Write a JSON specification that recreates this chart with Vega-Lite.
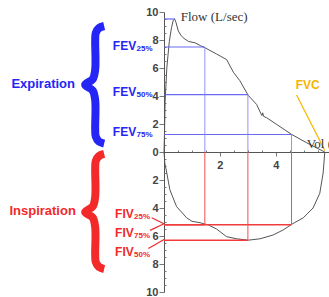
{
  "$schema": "https://vega.github.io/schema/vega-lite/v6.json",
  "autosize": "none",
  "padding": {"left": 164, "top": 12, "right": 0, "bottom": 5},
  "width": 165,
  "height": 280,
  "background": "white",
  "config": {"view": {"stroke": null}, "axis": {"labelOverlap": false, "labelFlush": false, "labelBound": false}},
  "resolve": {"axis": {"x": "independent", "y": "independent"}},
  "datasets": {
    "loop": [
      {"phase": "exp", "vol": 0, "flow": 0},
      {"phase": "exp", "vol": 0.02, "flow": 1.5},
      {"phase": "exp", "vol": 0.04, "flow": 3.6},
      {"phase": "exp", "vol": 0.1, "flow": 6.0},
      {"phase": "exp", "vol": 0.19, "flow": 7.9},
      {"phase": "exp", "vol": 0.27, "flow": 8.9},
      {"phase": "exp", "vol": 0.33, "flow": 9.4},
      {"phase": "exp", "vol": 0.38, "flow": 9.5},
      {"phase": "exp", "vol": 0.43, "flow": 9.25},
      {"phase": "exp", "vol": 0.51, "flow": 8.65},
      {"phase": "exp", "vol": 0.6, "flow": 8.35},
      {"phase": "exp", "vol": 0.69, "flow": 8.15},
      {"phase": "exp", "vol": 0.87, "flow": 7.9},
      {"phase": "exp", "vol": 1.11, "flow": 7.8},
      {"phase": "exp", "vol": 1.3, "flow": 7.6},
      {"phase": "exp", "vol": 1.46, "flow": 7.45},
      {"phase": "exp", "vol": 1.88, "flow": 7.0},
      {"phase": "exp", "vol": 2.24, "flow": 6.6},
      {"phase": "exp", "vol": 2.48, "flow": 5.7},
      {"phase": "exp", "vol": 2.71, "flow": 5.1},
      {"phase": "exp", "vol": 3.01, "flow": 4.05},
      {"phase": "exp", "vol": 3.31, "flow": 3.4},
      {"phase": "exp", "vol": 3.5, "flow": 2.6},
      {"phase": "exp", "vol": 3.53, "flow": 2.8},
      {"phase": "exp", "vol": 3.56, "flow": 2.55},
      {"phase": "exp", "vol": 3.67, "flow": 2.45},
      {"phase": "exp", "vol": 4.02, "flow": 1.98},
      {"phase": "exp", "vol": 4.56, "flow": 1.26},
      {"phase": "exp", "vol": 5.1, "flow": 0.66},
      {"phase": "exp", "vol": 5.45, "flow": 0.3},
      {"phase": "exp", "vol": 5.75, "flow": 0.0},
      {"phase": "insp", "vol": 0, "flow": 0},
      {"phase": "insp", "vol": 0.03, "flow": -0.8},
      {"phase": "insp", "vol": 0.1, "flow": -1.5},
      {"phase": "insp", "vol": 0.21, "flow": -2.7},
      {"phase": "insp", "vol": 0.45, "flow": -3.9},
      {"phase": "insp", "vol": 0.81, "flow": -4.7},
      {"phase": "insp", "vol": 1.0, "flow": -4.95},
      {"phase": "insp", "vol": 1.29, "flow": -5.05},
      {"phase": "insp", "vol": 1.46, "flow": -5.15},
      {"phase": "insp", "vol": 1.58, "flow": -5.2},
      {"phase": "insp", "vol": 1.88, "flow": -5.5},
      {"phase": "insp", "vol": 2.24, "flow": -6.05},
      {"phase": "insp", "vol": 2.6, "flow": -6.2},
      {"phase": "insp", "vol": 3.01, "flow": -6.3},
      {"phase": "insp", "vol": 3.43, "flow": -6.2},
      {"phase": "insp", "vol": 3.9, "flow": -5.93},
      {"phase": "insp", "vol": 4.26, "flow": -5.57},
      {"phase": "insp", "vol": 4.56, "flow": -5.17},
      {"phase": "insp", "vol": 4.98, "flow": -4.7},
      {"phase": "insp", "vol": 5.33, "flow": -4.0},
      {"phase": "insp", "vol": 5.57, "flow": -2.95},
      {"phase": "insp", "vol": 5.69, "flow": -1.5},
      {"phase": "insp", "vol": 5.75, "flow": 0}
    ],
    "fev": [
      {"name": "PEF", "vol": 0.39, "flow": 9.5, "drop": false},
      {"name": "FEV25", "vol": 1.46, "flow": 7.5, "drop": true},
      {"name": "FEV50", "vol": 3.0, "flow": 4.1, "drop": true},
      {"name": "FEV75", "vol": 4.56, "flow": 1.25, "drop": true}
    ],
    "fiv": [
      {"name": "FIV25", "vol": 1.46, "flow": -5.2},
      {"name": "FIV50", "vol": 3.0, "flow": -6.3},
      {"name": "FIV75", "vol": 4.56, "flow": -5.2}
    ],
    "braces": [
      {"group": "exp", "i": 1, "vol": -2.14, "flow": 9.0},
      {"group": "exp", "i": 2, "vol": -2.33, "flow": 8.85},
      {"group": "exp", "i": 3, "vol": -2.44, "flow": 8.5},
      {"group": "exp", "i": 4, "vol": -2.46, "flow": 8.0},
      {"group": "exp", "i": 5, "vol": -2.46, "flow": 5.9},
      {"group": "exp", "i": 6, "vol": -2.55, "flow": 5.2},
      {"group": "exp", "i": 7, "vol": -2.82, "flow": 4.8},
      {"group": "exp", "i": 8, "vol": -2.55, "flow": 4.4},
      {"group": "exp", "i": 9, "vol": -2.46, "flow": 3.7},
      {"group": "exp", "i": 10, "vol": -2.46, "flow": 1.6},
      {"group": "exp", "i": 11, "vol": -2.44, "flow": 1.1},
      {"group": "exp", "i": 12, "vol": -2.33, "flow": 0.75},
      {"group": "exp", "i": 13, "vol": -2.14, "flow": 0.6},
      {"group": "insp", "i": 1, "vol": -2.14, "flow": -0.14},
      {"group": "insp", "i": 2, "vol": -2.33, "flow": -0.29},
      {"group": "insp", "i": 3, "vol": -2.44, "flow": -0.64},
      {"group": "insp", "i": 4, "vol": -2.46, "flow": -1.14},
      {"group": "insp", "i": 5, "vol": -2.46, "flow": -3.2},
      {"group": "insp", "i": 6, "vol": -2.55, "flow": -3.9},
      {"group": "insp", "i": 7, "vol": -2.82, "flow": -4.29},
      {"group": "insp", "i": 8, "vol": -2.55, "flow": -4.68},
      {"group": "insp", "i": 9, "vol": -2.46, "flow": -5.38},
      {"group": "insp", "i": 10, "vol": -2.46, "flow": -7.36},
      {"group": "insp", "i": 11, "vol": -2.44, "flow": -7.86},
      {"group": "insp", "i": 12, "vol": -2.33, "flow": -8.21},
      {"group": "insp", "i": 13, "vol": -2.14, "flow": -8.36}
    ],
    "big": [
      {"group": "exp", "text": "Expiration", "vol": -4.32, "flow": 4.86},
      {"group": "insp", "text": "Inspiration", "vol": -4.34, "flow": -4.21}
    ],
    "main": [
      {"group": "exp", "text": "FEV", "vol": -1.83, "flow": 7.57},
      {"group": "exp", "text": "FEV", "vol": -1.83, "flow": 4.31},
      {"group": "exp", "text": "FEV", "vol": -1.83, "flow": 1.45},
      {"group": "insp", "text": "FIV", "vol": -1.75, "flow": -4.43},
      {"group": "insp", "text": "FIV", "vol": -1.75, "flow": -5.81},
      {"group": "insp", "text": "FIV", "vol": -1.75, "flow": -7.12},
      {"group": "fvc", "text": "FVC", "vol": 4.71, "flow": 4.79}
    ],
    "subs": [
      {"group": "exp", "text": "25%", "vol": -0.98, "flow": 7.36},
      {"group": "exp", "text": "50%", "vol": -0.98, "flow": 4.1},
      {"group": "exp", "text": "75%", "vol": -0.98, "flow": 1.24},
      {"group": "insp", "text": "25%", "vol": -1.07, "flow": -4.64},
      {"group": "insp", "text": "75%", "vol": -1.07, "flow": -6.02},
      {"group": "insp", "text": "50%", "vol": -1.07, "flow": -7.33}
    ],
    "leaders": [
      {"group": "insp", "vol": -0.44, "flow": -4.7, "vol2": 0, "flow2": -5.12},
      {"group": "insp", "vol": -0.5, "flow": -5.6, "vol2": 0, "flow2": -5.12},
      {"group": "insp", "vol": -0.56, "flow": -6.9, "vol2": 0, "flow2": -6.25},
      {"group": "fvc", "vol": 4.74, "flow": 4.07, "vol2": 5.75, "flow2": 0.1}
    ],
    "axtitles": [
      {"text": "Flow (L/sec)", "vol": 0.6, "flow": 9.64},
      {"text": "Vol (L)", "vol": 5.1, "flow": 0.6}
    ]
  },
  "layer": [
    {
      "data": {"name": "loop"},
      "mark": {"type": "line", "color": "#555555", "strokeWidth": 1, "clip": false},
      "encoding": {
        "x": {
          "field": "vol", "type": "quantitative",
          "scale": {"domain": [0, 5.9], "nice": false, "zero": false},
          "axis": {
            "title": null, "orient": "bottom", "offset": -140,
            "values": [2, 4],
            "domainColor": "#555555", "tickColor": "#777777",
            "tickSize": 4, "labelPadding": 3,
            "labelFont": "Liberation Sans", "labelFontSize": 11, "labelFontWeight": "bold", "labelColor": "#444444",
            "grid": false
          }
        },
        "y": {
          "field": "flow", "type": "quantitative",
          "scale": {"domain": [-10, 10], "nice": false, "zero": false},
          "axis": {
            "title": null, "orient": "left",
            "values": [-10, -8, -6, -4, -2, 0, 2, 4, 6, 8, 10],
            "labelExpr": "'' + abs(datum.value)",
            "tickSize": 5,
            "domainColor": "#555555", "tickColor": "#777777",
            "labelPadding": 1,
            "labelFont": "Liberation Sans", "labelFontSize": 11, "labelFontWeight": "bold", "labelColor": "#444444",
            "grid": false
          }
        },
        "detail": {"field": "phase"}
      }
    },
    {
      "data": {"name": "fev"},
      "mark": {"type": "rule", "color": "#5a5af0", "strokeWidth": 1.2, "opacity": 0.9},
      "encoding": {
        "x": {"field": "vol", "type": "quantitative",
          "axis": {"title": null, "orient": "top", "offset": -140, "labels": false, "domain": false,
            "values": [0.5, 1, 1.5, 2.5, 3, 3.5, 4.5, 5, 5.5], "tickSize": 2, "tickColor": "#777777", "grid": false}},
        "x2": {"datum": 0},
        "y": {"field": "flow", "type": "quantitative",
          "axis": {"title": null, "orient": "right", "offset": -165, "labels": false, "domain": false,
            "values": [-9.5, -9, -8.5, -7.5, -7, -6.5, -5.5, -5, -4.5, -3.5, -3, -2.5, -1.5, -1, -0.5, 0.5, 1, 1.5, 2.5, 3, 3.5, 4.5, 5, 5.5, 6.5, 7, 7.5, 8.5, 9, 9.5],
            "tickSize": 2, "tickColor": "#777777", "grid": false}}
      }
    },
    {
      "data": {"name": "fev"},
      "transform": [{"filter": "datum.drop"}],
      "mark": {"type": "rule", "color": "#7a7af5", "strokeWidth": 1, "opacity": 0.8},
      "encoding": {
        "x": {"field": "vol", "type": "quantitative", "axis": null},
        "y": {"field": "flow", "type": "quantitative", "axis": null},
        "y2": {"datum": 0}
      }
    },
    {
      "data": {"name": "fiv"},
      "mark": {"type": "rule", "color": "#f03c3c", "strokeWidth": 1.5},
      "encoding": {
        "x": {"field": "vol", "type": "quantitative", "axis": null},
        "x2": {"datum": 0},
        "y": {"field": "flow", "type": "quantitative", "axis": null}
      }
    },
    {
      "data": {"name": "fiv"},
      "mark": {"type": "rule", "color": "#f05050", "strokeWidth": 1},
      "encoding": {
        "x": {"field": "vol", "type": "quantitative", "axis": null},
        "y": {"field": "flow", "type": "quantitative", "axis": null},
        "y2": {"datum": 0}
      }
    },
    {
      "data": {"name": "braces"},
      "mark": {"type": "line", "strokeWidth": 8, "interpolate": "catmull-rom", "strokeCap": "butt", "strokeJoin": "round", "clip": false},
      "encoding": {
        "x": {"field": "vol", "type": "quantitative", "axis": null},
        "y": {"field": "flow", "type": "quantitative", "axis": null},
        "order": {"field": "i", "type": "quantitative"},
        "detail": {"field": "group", "type": "nominal"},
        "color": {"field": "group", "type": "nominal", "legend": null,
          "scale": {"domain": ["exp", "insp", "fvc"], "range": ["#2525f5", "#f22a2a", "#f5b500"]}}
      }
    },
    {
      "data": {"name": "leaders"},
      "mark": {"type": "rule", "strokeWidth": 1.2, "clip": false},
      "encoding": {
        "x": {"field": "vol", "type": "quantitative", "axis": null},
        "y": {"field": "flow", "type": "quantitative", "axis": null},
        "x2": {"field": "vol2"},
        "y2": {"field": "flow2"},
        "color": {"field": "group", "type": "nominal", "legend": null,
          "scale": {"domain": ["exp", "insp", "fvc"], "range": ["#2525f5", "#f22a2a", "#f5b500"]}}
      }
    },
    {
      "data": {"name": "big"},
      "mark": {"type": "text", "font": "Liberation Sans", "fontWeight": "bold", "fontSize": 13, "align": "center", "baseline": "middle", "clip": false},
      "encoding": {
        "x": {"field": "vol", "type": "quantitative", "axis": null},
        "y": {"field": "flow", "type": "quantitative", "axis": null},
        "text": {"field": "text", "type": "nominal"},
        "color": {"field": "group", "type": "nominal", "legend": null,
          "scale": {"domain": ["exp", "insp", "fvc"], "range": ["#2525f5", "#f22a2a", "#f5b500"]}}
      }
    },
    {
      "data": {"name": "main"},
      "mark": {"type": "text", "font": "Liberation Sans", "fontWeight": "bold", "fontSize": 12, "align": "left", "baseline": "middle", "clip": false},
      "encoding": {
        "x": {"field": "vol", "type": "quantitative", "axis": null},
        "y": {"field": "flow", "type": "quantitative", "axis": null},
        "text": {"field": "text", "type": "nominal"},
        "color": {"field": "group", "type": "nominal", "legend": null,
          "scale": {"domain": ["exp", "insp", "fvc"], "range": ["#2525f5", "#f22a2a", "#f5b500"]}}
      }
    },
    {
      "data": {"name": "subs"},
      "mark": {"type": "text", "font": "Liberation Sans", "fontWeight": "bold", "fontSize": 8, "align": "left", "baseline": "middle", "clip": false},
      "encoding": {
        "x": {"field": "vol", "type": "quantitative", "axis": null},
        "y": {"field": "flow", "type": "quantitative", "axis": null},
        "text": {"field": "text", "type": "nominal"},
        "color": {"field": "group", "type": "nominal", "legend": null,
          "scale": {"domain": ["exp", "insp", "fvc"], "range": ["#2525f5", "#f22a2a", "#f5b500"]}}
      }
    },
    {
      "data": {"name": "axtitles"},
      "mark": {"type": "text", "font": "Liberation Serif", "fontSize": 13, "align": "left", "baseline": "middle", "color": "#333333", "clip": false},
      "encoding": {
        "x": {"field": "vol", "type": "quantitative", "axis": null},
        "y": {"field": "flow", "type": "quantitative", "axis": null},
        "text": {"field": "text", "type": "nominal"}
      }
    }
  ]
}
